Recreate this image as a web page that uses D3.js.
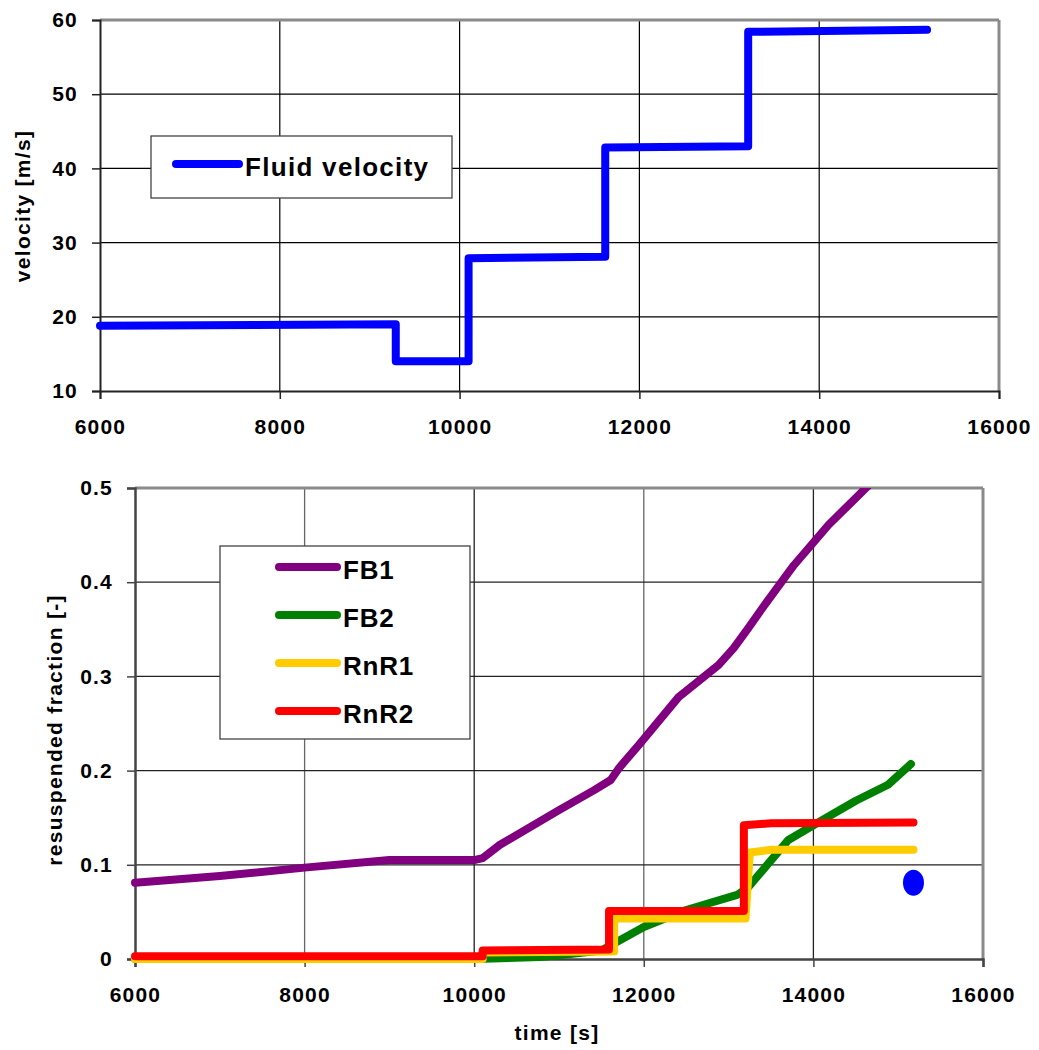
<!DOCTYPE html>
<html>
<head>
<meta charset="utf-8">
<script src="https://cdn.jsdelivr.net/npm/d3@7"></script>
<style>
  body { margin: 0; background: #fff; }
  text { font-family: "Liberation Sans", Arial, sans-serif; font-weight: bold; fill: #000; }
</style>
</head>
<body>
<script>
// velocity steps [time s, velocity m/s]
var velocity = [
    [6000, 18.8], [9290, 19.0], [9290, 14.0], [10100, 14.0],
    [10100, 27.9], [11620, 28.1], [11620, 42.8], [13210, 43.0],
    [13210, 58.4], [15200, 58.7]
];

// resuspended fraction [time s, fraction]
var fb1 = [
    [6000, 0.081], [7000, 0.088], [8000, 0.097], [9000, 0.105], [10000, 0.105],
    [10100, 0.107], [10300, 0.121], [11000, 0.158], [11410, 0.179], [11610, 0.190],
    [11710, 0.203], [11940, 0.227], [12410, 0.278], [12880, 0.312], [13060, 0.330],
    [13230, 0.351], [13410, 0.374], [13770, 0.418], [14180, 0.461], [14620, 0.500],
    [14700, 0.507]
];
var fb2 = [
    [6000, 0], [10000, 0], [10770, 0.002], [11000, 0.004], [11500, 0.009],
    [11600, 0.014], [12000, 0.034], [12500, 0.052], [13100, 0.068], [13230, 0.076],
    [13700, 0.126], [14000, 0.142], [14500, 0.168], [14880, 0.185], [15150, 0.207]
];
var rnr1 = [
    [6000, 0], [10100, 0], [10100, 0.007], [11650, 0.008], [11650, 0.043],
    [13200, 0.043], [13250, 0.113], [13500, 0.116], [15180, 0.116]
];
var rnr2 = [
    [6000, 0.003], [10100, 0.003], [10100, 0.009], [11590, 0.010], [11590, 0.051],
    [13180, 0.051], [13180, 0.142], [13500, 0.144], [15180, 0.145]
];
var extraPoint = [[15180, 0.081]];

var timeTicks = [6000, 8000, 10000, 12000, 14000, 16000];
var velTicks = [10, 20, 30, 40, 50, 60];
var fracTicks = [0, 0.1, 0.2, 0.3, 0.4, 0.5];

var series = [
    { name: "FB1", data: fb1, color: "#800080" },
    { name: "FB2", data: fb2, color: "#008000" },
    { name: "RnR1", data: rnr1, color: "#ffcc00" },
    { name: "RnR2", data: rnr2, color: "#ff0000" }
];

var svg = d3.select("body").append("svg")
    .attr("width", 1039)
    .attr("height", 1050);

/*
* top chart : fluid velocity
*/
var x1 = d3.scaleLinear().domain([6000, 16000]).range([100, 999]);
var y1 = d3.scaleLinear().domain([10, 60]).range([391, 20]);

var topChart = svg.append("g");

topChart.selectAll(".vgrid").data(timeTicks.slice(1, -1)).enter()
    .append("line")
    .attr("x1", function (d) { return x1(d); }).attr("x2", function (d) { return x1(d); })
    .attr("y1", 20).attr("y2", 391)
    .attr("stroke", "#000").attr("stroke-width", 1.2);
topChart.selectAll(".hgrid").data(velTicks.slice(1, -1)).enter()
    .append("line")
    .attr("x1", 100).attr("x2", 999)
    .attr("y1", function (d) { return y1(d); }).attr("y2", function (d) { return y1(d); })
    .attr("stroke", "#000").attr("stroke-width", 1.2);

// frame
topChart.append("line").attr("x1", 100).attr("x2", 999).attr("y1", 20).attr("y2", 20)
    .attr("stroke", "#8a8a8a").attr("stroke-width", 3);
topChart.append("line").attr("x1", 999).attr("x2", 999).attr("y1", 20).attr("y2", 391)
    .attr("stroke", "#8a8a8a").attr("stroke-width", 3);

var xAxis1 = topChart.append("g")
    .attr("transform", "translate(0,391)")
    .call(d3.axisBottom(x1).tickValues(timeTicks).tickSize(8).tickPadding(20).tickFormat(d3.format("d")));
var yAxis1 = topChart.append("g")
    .attr("transform", "translate(100,0)")
    .call(d3.axisLeft(y1).tickValues(velTicks).tickSize(8).tickPadding(14).tickFormat(d3.format("d")));

[xAxis1, yAxis1].forEach(function (a) {
    a.select(".domain").attr("stroke", "#222").attr("stroke-width", 2);
    a.selectAll(".tick line").attr("stroke", "#222").attr("stroke-width", 1.5);
    a.selectAll("text").attr("font-size", 21).attr("letter-spacing", 1.2)
        .attr("font-family", "Liberation Sans, Arial, sans-serif").attr("font-weight", "bold").attr("fill", "#000");
});

topChart.append("path")
    .datum(velocity)
    .attr("fill", "none")
    .attr("stroke", "#0000ff")
    .attr("stroke-width", 8)
    .attr("stroke-linejoin", "round")
    .attr("stroke-linecap", "round")
    .attr("d", d3.line().x(function (d) { return x1(d[0]); }).y(function (d) { return y1(d[1]); }));

topChart.append("text")
    .attr("transform", "translate(30,206) rotate(-90)")
    .attr("text-anchor", "middle")
    .attr("font-size", 21).attr("letter-spacing", 1.3)
    .text("velocity [m/s]");

// legend
topChart.append("rect").attr("x", 151).attr("y", 136).attr("width", 301).attr("height", 62)
    .attr("fill", "#fff").attr("stroke", "#444").attr("stroke-width", 1.3);
topChart.append("line").attr("x1", 176).attr("x2", 239).attr("y1", 164).attr("y2", 164)
    .attr("stroke", "#0000ff").attr("stroke-width", 8).attr("stroke-linecap", "round");
topChart.append("text").attr("x", 245).attr("y", 176)
    .attr("font-size", 26).attr("letter-spacing", 1.3)
    .text("Fluid velocity");

/*
* bottom chart : resuspended fraction
*/
var x2 = d3.scaleLinear().domain([6000, 16000]).range([135, 983]);
var y2 = d3.scaleLinear().domain([0, 0.5]).range([959, 488]);

var bot = svg.append("g");

bot.selectAll(".vgrid").data(timeTicks.slice(1, -1)).enter()
    .append("line")
    .attr("x1", function (d) { return x2(d); }).attr("x2", function (d) { return x2(d); })
    .attr("y1", 488).attr("y2", 959)
    .attr("stroke", function (d, i) { return i % 2 ? "#222" : "#666"; }).attr("stroke-width", 1.3);
bot.selectAll(".hgrid").data(fracTicks.slice(1, -1)).enter()
    .append("line")
    .attr("x1", 135).attr("x2", 983)
    .attr("y1", function (d) { return y2(d); }).attr("y2", function (d) { return y2(d); })
    .attr("stroke", "#222").attr("stroke-width", 1.2);

bot.append("line").attr("x1", 135).attr("x2", 983).attr("y1", 488).attr("y2", 488)
    .attr("stroke", "#8a8a8a").attr("stroke-width", 3);
bot.append("line").attr("x1", 983).attr("x2", 983).attr("y1", 488).attr("y2", 959)
    .attr("stroke", "#8a8a8a").attr("stroke-width", 3);

var xAxis2 = bot.append("g")
    .attr("transform", "translate(0,959)")
    .call(d3.axisBottom(x2).tickValues(timeTicks).tickSize(8).tickPadding(20).tickFormat(d3.format("d")));
var yAxis2 = bot.append("g")
    .attr("transform", "translate(135,0)")
    .call(d3.axisLeft(y2).tickValues(fracTicks).tickSize(8).tickPadding(14)
        .tickFormat(function (d) { return d === 0 ? "0" : d3.format(".1f")(d); }));

[xAxis2, yAxis2].forEach(function (a) {
    a.select(".domain").attr("stroke", "#444").attr("stroke-width", 2.5);
    a.selectAll(".tick line").attr("stroke", "#444").attr("stroke-width", 1.5);
    a.selectAll("text").attr("font-size", 21).attr("letter-spacing", 1.2)
        .attr("font-family", "Liberation Sans, Arial, sans-serif").attr("font-weight", "bold").attr("fill", "#000");
});

svg.append("clipPath").attr("id", "clip2")
    .append("rect").attr("x", 120).attr("y", 488).attr("width", 880).attr("height", 500);

var line2 = d3.line().x(function (d) { return x2(d[0]); }).y(function (d) { return y2(d[1]); });

bot.append("g").attr("clip-path", "url(#clip2)")
    .selectAll("path").data(series).enter()
    .append("path")
    .attr("fill", "none")
    .attr("stroke", function (d) { return d.color; })
    .attr("stroke-width", 8)
    .attr("stroke-linejoin", "round")
    .attr("stroke-linecap", "round")
    .attr("d", function (d) { return line2(d.data); });

bot.selectAll(".dot").data(extraPoint).enter()
    .append("ellipse")
    .attr("cx", function (d) { return x2(d[0]); })
    .attr("cy", function (d) { return y2(d[1]); })
    .attr("rx", 10.5).attr("ry", 13)
    .attr("fill", "#0000ff");

bot.append("text")
    .attr("transform", "translate(62,730) rotate(-90)")
    .attr("text-anchor", "middle")
    .attr("font-size", 21).attr("letter-spacing", 1.3)
    .text("resuspended fraction [-]");

bot.append("text")
    .attr("x", 557).attr("y", 1040)
    .attr("text-anchor", "middle")
    .attr("font-size", 21).attr("letter-spacing", 1.3)
    .text("time [s]");

// legend
bot.append("rect").attr("x", 220).attr("y", 546).attr("width", 250).attr("height", 193)
    .attr("fill", "#fff").attr("stroke", "#444").attr("stroke-width", 1.3);
var leg = bot.selectAll(".leg").data(series).enter()
    .append("g")
    .attr("transform", function (d, i) { return "translate(0," + (567 + i * 48) + ")"; });
leg.append("line").attr("x1", 279).attr("x2", 337).attr("y1", 0).attr("y2", 0)
    .attr("stroke", function (d) { return d.color; })
    .attr("stroke-width", 8).attr("stroke-linecap", "round");
leg.append("text").attr("x", 343).attr("y", 12)
    .attr("font-size", 26).attr("letter-spacing", 0.8)
    .text(function (d) { return d.name; });
</script>
</body>
</html>
